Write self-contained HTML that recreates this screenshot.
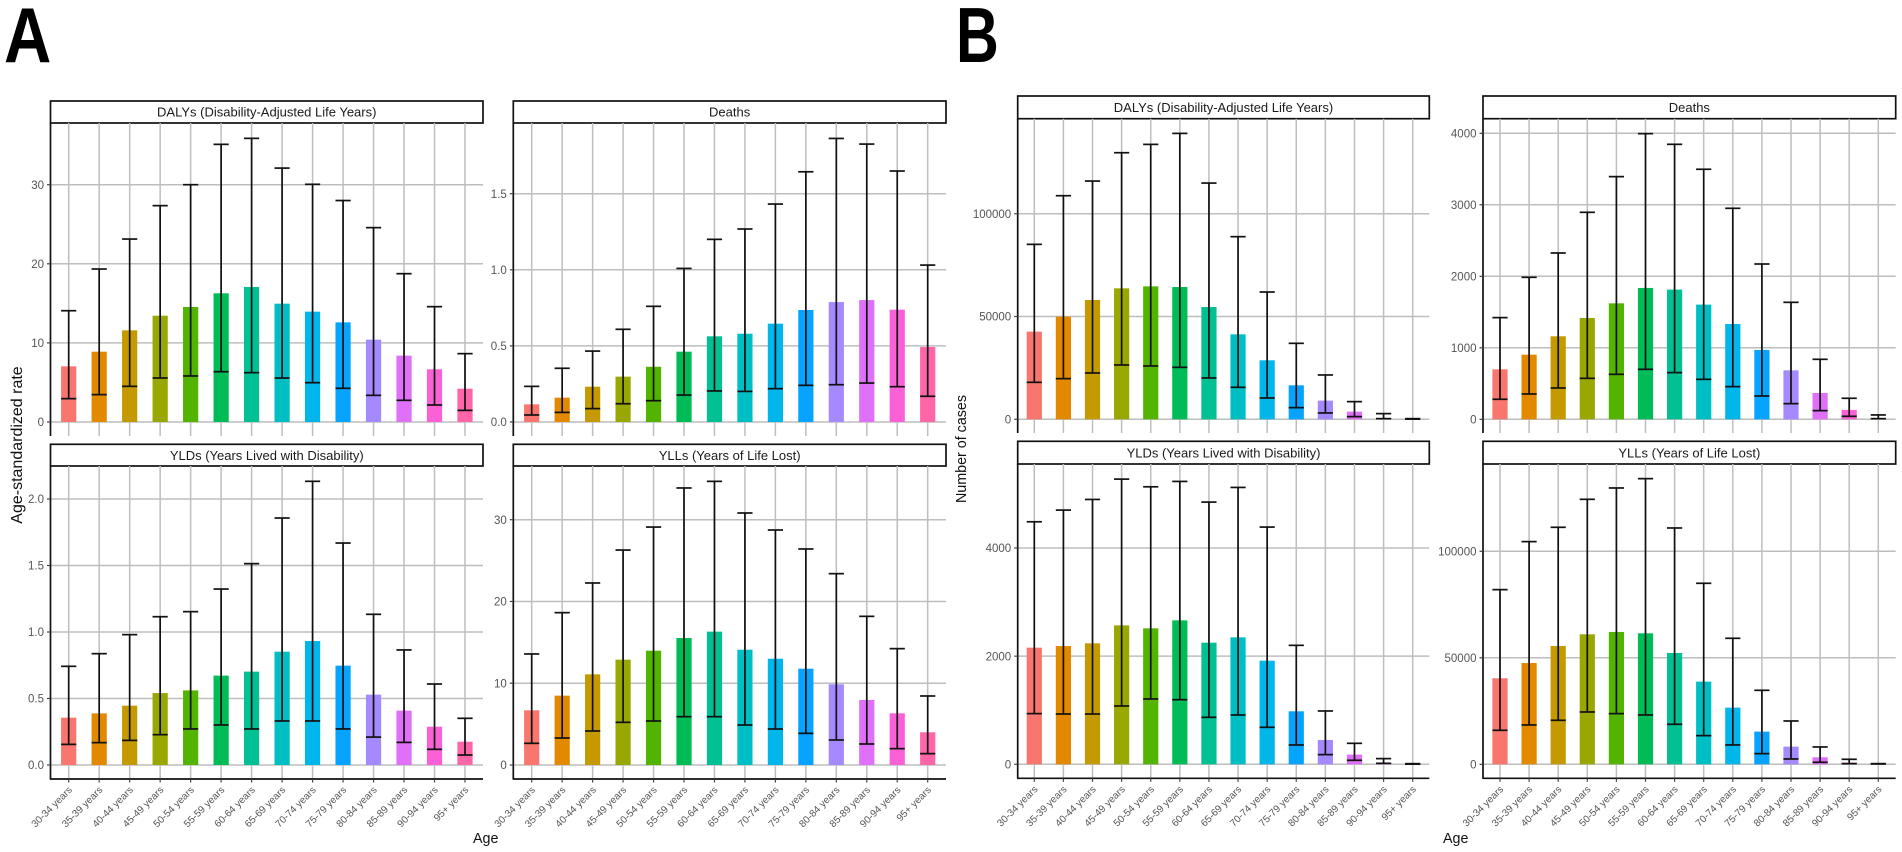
<!DOCTYPE html>
<html lang="en">
<head>
<meta charset="utf-8">
<title>Age-standardized rate and number of cases by age</title>
<style>
  html, body { margin: 0; padding: 0; background: #fff; }
  body { width: 1902px; height: 852px; overflow: hidden; }
  svg { display: block; filter: blur(0.35px); }
  text { font-family: "Liberation Sans", sans-serif; }
</style>
</head>
<body>
<svg id="chart" xmlns="http://www.w3.org/2000/svg" width="1902" height="852" viewBox="0 0 1902 852">
  <rect x="0" y="0" width="1902" height="852" fill="#ffffff"/>
  <text transform="translate(4 62) scale(0.84 1)" font-size="78" font-weight="700" fill="#000">A</text>
  <text transform="translate(956 62) scale(0.76 1)" font-size="78" font-weight="700" fill="#000">B</text>
  <text transform="translate(22 445) rotate(-90)" text-anchor="middle" font-size="16" fill="#111">Age-standardized rate</text>
  <text transform="translate(966 449) rotate(-90)" text-anchor="middle" font-size="14.3" fill="#111">Number of cases</text>
  <text x="473" y="843" font-size="14.3" fill="#111">Age</text>
  <text x="1443" y="843" font-size="14.3" fill="#111">Age</text>
</svg>
<script>
const categories = ["30-34 years","35-39 years","40-44 years","45-49 years","50-54 years","55-59 years","60-64 years","65-69 years","70-74 years","75-79 years","80-84 years","85-89 years","90-94 years","95+ years"];
const barColors = ["#F8766D","#E38900","#C49A00","#99A800","#53B400","#00BC56","#00C094","#00BFC4","#00B6EB","#06A4FF","#A58AFF","#DF70F8","#FB61D7","#FF66A8"];

const rateDalysTitle = "DALYs (Disability-Adjusted Life Years)";
const rateDalysTicks = ["0","10","20","30"];
const rateDalysVal = [7.04,8.89,11.59,13.44,14.54,16.27,17.07,14.96,13.95,12.6,10.41,8.39,6.66,4.21];
const rateDalysUpper = [14.07,19.34,23.13,27.35,30.0,35.1,35.86,32.1,30.05,28.0,24.57,18.75,14.58,8.64];
const rateDalysLower = [2.95,3.46,4.51,5.56,5.82,6.36,6.24,5.56,4.97,4.26,3.37,2.74,2.15,1.47];

const rateDeathsTitle = "Deaths";
const rateDeathsTicks = ["0.0","0.5","1.0","1.5"];
const rateDeathsVal = [0.116,0.16,0.232,0.298,0.363,0.462,0.563,0.58,0.646,0.736,0.788,0.801,0.738,0.493];
const rateDeathsUpper = [0.234,0.353,0.466,0.609,0.76,1.009,1.2,1.268,1.432,1.644,1.863,1.826,1.649,1.031];
const rateDeathsLower = [0.046,0.063,0.088,0.12,0.14,0.177,0.204,0.201,0.219,0.241,0.245,0.256,0.232,0.169];

const rateYldsTitle = "YLDs (Years Lived with Disability)";
const rateYldsTicks = ["0.0","0.5","1.0","1.5","2.0"];
const rateYldsVal = [0.356,0.388,0.446,0.541,0.561,0.672,0.702,0.852,0.932,0.747,0.529,0.409,0.288,0.175];
const rateYldsUpper = [0.742,0.837,0.98,1.115,1.153,1.323,1.514,1.857,2.133,1.669,1.133,0.865,0.609,0.351];
const rateYldsLower = [0.155,0.168,0.185,0.228,0.271,0.301,0.271,0.331,0.331,0.271,0.21,0.17,0.118,0.075];

const rateYllsTitle = "YLLs (Years of Life Lost)";
const rateYllsTicks = ["0","10","20","30"];
const rateYllsVal = [6.69,8.48,11.09,12.88,13.98,15.53,16.31,14.1,13.0,11.78,9.87,7.95,6.32,4.0];
const rateYllsUpper = [13.58,18.63,22.26,26.29,29.1,33.88,34.69,30.82,28.74,26.42,23.4,18.18,14.23,8.44];
const rateYllsLower = [2.65,3.3,4.16,5.22,5.38,5.91,5.91,4.89,4.4,3.87,3.06,2.57,2.0,1.39];

const casesDalysTitle = "DALYs (Disability-Adjusted Life Years)";
const casesDalysTicks = ["0","50000","100000"];
const casesDalysVal = [42630,49920,58020,63700,64670,64340,54620,41330,28690,16530,9080,3730,650,160];
const casesDalysUpper = [85090,108750,115880,129660,133710,139060,114910,88820,61910,36950,21560,8590,2760,320];
const casesDalysLower = [17990,19770,22530,26420,25930,25280,20100,15560,10370,5670,3080,1300,320,80];

const casesDeathsTitle = "Deaths";
const casesDeathsTicks = ["0","1000","2000","3000","4000"];
const casesDeathsVal = [699,904,1161,1417,1622,1837,1814,1604,1333,970,685,368,131,15];
const casesDeathsUpper = [1422,1986,2326,2895,3394,3995,3846,3497,2951,2172,1636,839,294,61];
const casesDeathsLower = [280,354,438,573,629,699,653,559,457,326,219,121,42,9];

const casesYldsTitle = "YLDs (Years Lived with Disability)";
const casesYldsTicks = ["0","2000","4000"];
const casesYldsVal = [2157,2187,2237,2569,2514,2662,2249,2348,1916,980,450,179,31,6];
const casesYldsUpper = [4485,4701,4898,5274,5132,5231,4849,5120,4387,2200,986,388,105,12];
const casesYldsLower = [937,930,930,1078,1208,1195,869,912,684,357,179,74,18,3];

const casesYllsTitle = "YLLs (Years of Life Lost)";
const casesYllsTicks = ["0","50000","100000"];
const casesYllsVal = [40380,47570,55560,61030,62130,61500,52270,38810,26600,15340,8290,3290,780,160];
const casesYllsUpper = [82000,104540,111270,124410,129730,134110,110950,84980,59160,34740,20340,8140,2350,310];
const casesYllsLower = [15960,18470,20660,24570,23790,23160,18780,13460,9080,5010,2500,940,310,160];

const SVG_NS = "http://www.w3.org/2000/svg";
const chart = document.getElementById("chart");

function make(parent, tag, attrs, text) {
  const el = document.createElementNS(SVG_NS, tag);
  for (const k in attrs) el.setAttribute(k, attrs[k]);
  if (text !== undefined) el.textContent = text;
  parent.appendChild(el);
  return el;
}

function drawPanel(name, title, ticks, vals, upper, lower, box) {
  const xScale = i => box.first + (box.last - box.first) * i / (categories.length - 1);
  const yUnit = (box.zeroY - box.refY) / box.refValue;
  const yScale = v => box.zeroY - v * yUnit;
  const barW = 15.2;
  const inkW = 1.7;

  const g = make(chart, "g", {});
  
  

  // strip
  const strip = make(g, "rect", {x: box.x0, y: box.stripTop, width: box.x1 - box.x0, height: box.stripBot - box.stripTop, fill: "#fff", stroke: "#111", "stroke-width": inkW});
  
  
  const stripText = make(g, "text", {x: (box.x0 + box.x1) / 2, y: (box.stripTop + box.stripBot) / 2 + 4.6, "text-anchor": "middle", "font-size": 13, fill: "#1a1a1a"}, title);
  
  

  // grid
  ticks.forEach(t => {
    const y = yScale(parseFloat(t));
    const line = make(g, "line", {x1: box.x0, x2: box.x1, y1: y, y2: y, stroke: "#bebebe", "stroke-width": 1.5});
    
    
  });
  categories.forEach((c, i) => {
    const x = xScale(i);
    const line = make(g, "line", {x1: x, x2: x, y1: box.stripBot, y2: box.bottom, stroke: "#bebebe", "stroke-width": 1.5});
    
    
  });

  // bars
  vals.forEach((v, i) => {
    const x = xScale(i);
    const top = yScale(v);
    const bar = make(g, "rect", {x: x - barW / 2, y: top, width: barW, height: box.zeroY - top, fill: barColors[i]});
    
    
  });

  // error bars
  vals.forEach((v, i) => {
    const x = xScale(i);
    const yu = yScale(upper[i]);
    const yl = yScale(lower[i]);
    const stem = make(g, "line", {x1: x, x2: x, y1: yu, y2: yl, stroke: "#111", "stroke-width": inkW});
    
    
    const capU = make(g, "line", {x1: x - barW / 2, x2: x + barW / 2, y1: yu, y2: yu, stroke: "#111", "stroke-width": inkW});
    
    
    const capL = make(g, "line", {x1: x - barW / 2, x2: x + barW / 2, y1: yl, y2: yl, stroke: "#111", "stroke-width": inkW});
    
    
  });

  // y axis
  const yAxis = make(g, "line", {x1: box.x0, x2: box.x0, y1: box.stripBot, y2: box.bottom, stroke: "#111", "stroke-width": inkW});
  
  
  ticks.forEach(t => {
    const y = yScale(parseFloat(t));
    const mark = make(g, "line", {x1: box.x0 - 3.5, x2: box.x0, y1: y, y2: y, stroke: "#444", "stroke-width": 1.2});
    
    
    const label = make(g, "text", {x: box.x0 - 6.5, y: y + 4.1, "text-anchor": "end", "font-size": 11.5, fill: "#555555"}, t);
    
    
  });

  // x axis (bottom row only)
  if (box.showX) {
    const xAxis = make(g, "line", {x1: box.x0 - 0.7, x2: box.x1, y1: box.bottom, y2: box.bottom, stroke: "#111", "stroke-width": inkW});
    
    
    categories.forEach((c, i) => {
      const x = xScale(i);
      const mark = make(g, "line", {x1: x, x2: x, y1: box.bottom, y2: box.bottom + 3.5, stroke: "#444", "stroke-width": 1.2});
      
      
      const label = make(g, "text", {transform: "translate(" + (x + 4) + " " + (box.bottom + 11.5) + ") rotate(-45)", "text-anchor": "end", "font-size": 10, fill: "#555555"}, c);
      
      
    });
  }
}

drawPanel("rate-dalys", rateDalysTitle, rateDalysTicks, rateDalysVal, rateDalysUpper, rateDalysLower,
  {x0: 50.5, x1: 483, stripTop: 101, stripBot: 123, bottom: 436, zeroY: 422, refY: 184.7, refValue: 30, first: 68.7, last: 465});
drawPanel("rate-deaths", rateDeathsTitle, rateDeathsTicks, rateDeathsVal, rateDeathsUpper, rateDeathsLower,
  {x0: 513.3, x1: 946, stripTop: 101, stripBot: 123, bottom: 436, zeroY: 422, refY: 193.7, refValue: 1.5, first: 531.7, last: 927.7});
drawPanel("rate-ylds", rateYldsTitle, rateYldsTicks, rateYldsVal, rateYldsUpper, rateYldsLower,
  {x0: 50.5, x1: 483, stripTop: 444.3, stripBot: 466, bottom: 779, zeroY: 765, refY: 499, refValue: 2, first: 68.7, last: 465, showX: true});
drawPanel("rate-ylls", rateYllsTitle, rateYllsTicks, rateYllsVal, rateYllsUpper, rateYllsLower,
  {x0: 513.3, x1: 946, stripTop: 444.3, stripBot: 466, bottom: 779, zeroY: 765, refY: 519.7, refValue: 30, first: 531.7, last: 927.7, showX: true});
drawPanel("cases-dalys", casesDalysTitle, casesDalysTicks, casesDalysVal, casesDalysUpper, casesDalysLower,
  {x0: 1017.7, x1: 1429.3, stripTop: 96, stripBot: 118.7, bottom: 433, zeroY: 419.3, refY: 213.7, refValue: 100000, first: 1034.3, last: 1412.7});
drawPanel("cases-deaths", casesDeathsTitle, casesDeathsTicks, casesDeathsVal, casesDeathsUpper, casesDeathsLower,
  {x0: 1483, x1: 1895.7, stripTop: 96, stripBot: 118.7, bottom: 433, zeroY: 419.3, refY: 133.3, refValue: 4000, first: 1500, last: 1878.3});
drawPanel("cases-ylds", casesYldsTitle, casesYldsTicks, casesYldsVal, casesYldsUpper, casesYldsLower,
  {x0: 1017.7, x1: 1429.3, stripTop: 441.3, stripBot: 464, bottom: 778.3, zeroY: 764.3, refY: 548, refValue: 4000, first: 1034.3, last: 1412.7, showX: true});
drawPanel("cases-ylls", casesYllsTitle, casesYllsTicks, casesYllsVal, casesYllsUpper, casesYllsLower,
  {x0: 1483, x1: 1895.7, stripTop: 441.3, stripBot: 464, bottom: 778.3, zeroY: 764.3, refY: 551.3, refValue: 100000, first: 1500, last: 1878.3, showX: true});
</script>
</body>
</html>
